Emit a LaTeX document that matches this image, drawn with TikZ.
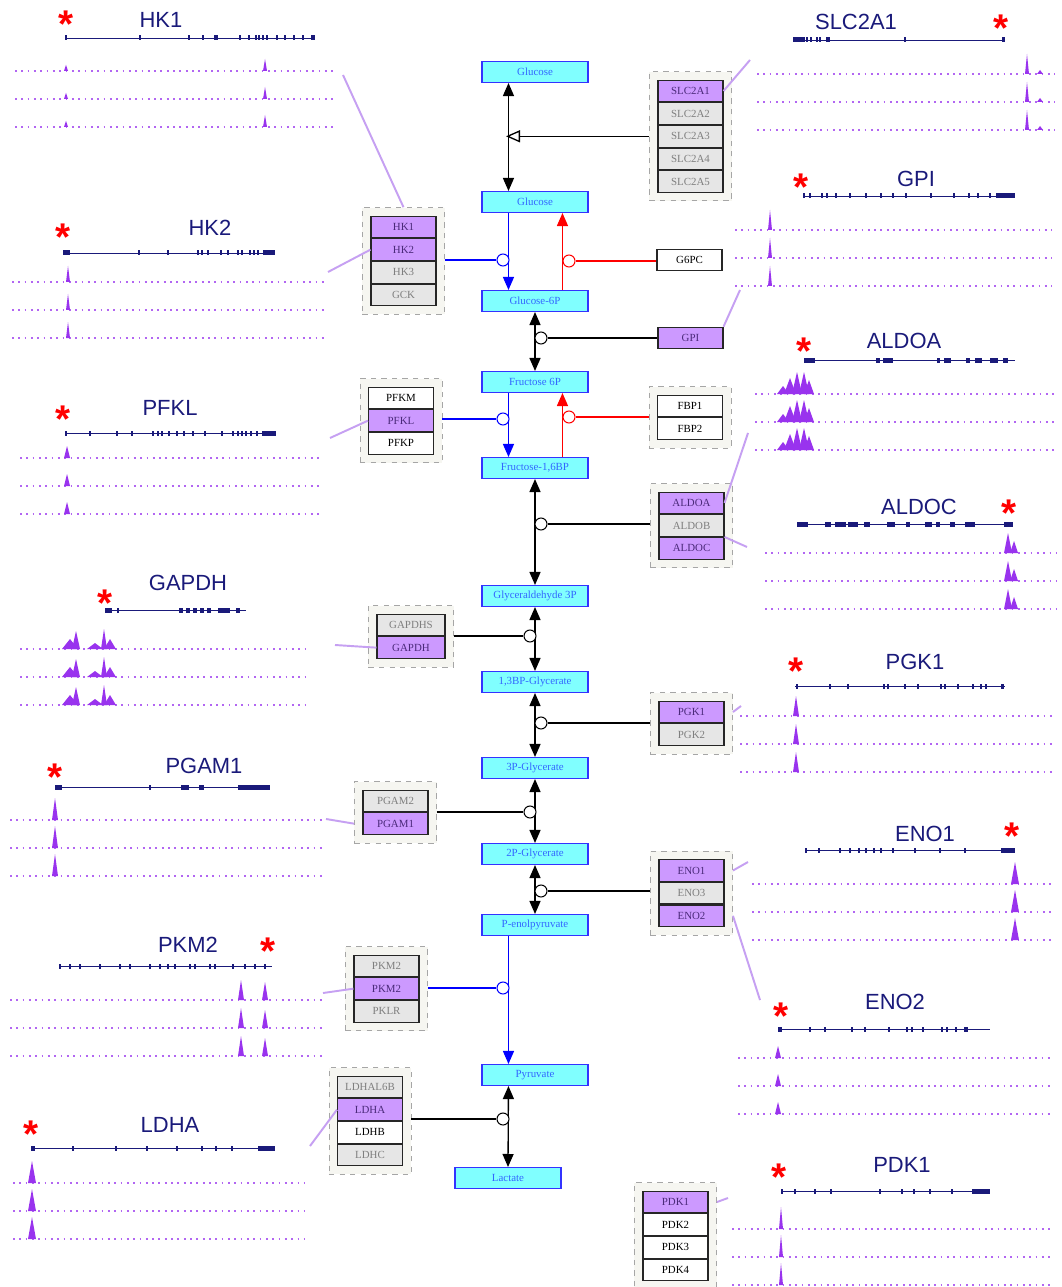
\documentclass[tikz,border=0pt]{standalone}
\usepackage{fontspec}
\setmainfont{Liberation Serif}
\newfontfamily\labelfont{Liberation Sans}
\usetikzlibrary{arrows.meta, positioning, fit, backgrounds}

\definecolor{metfill}{HTML}{80FFFF}
\definecolor{metdraw}{HTML}{3333FF}
\definecolor{mettext}{HTML}{3366FF}
\definecolor{enzp}{HTML}{CC99FF}
\definecolor{enzptext}{HTML}{4B2A7A}
\definecolor{enzg}{HTML}{E6E6E6}
\definecolor{enzgtext}{HTML}{7F7F7F}
\definecolor{grpfill}{HTML}{F6F6F1}
\definecolor{leader}{HTML}{C6A0F2}
\definecolor{trackc}{HTML}{9933EE}
\definecolor{genec}{HTML}{1A1A7A}

% three signal tracks under a gene
\newcommand{\tracks}[4]{%
  \foreach \r in {0,1,2}{%
    \draw[trk] (#1,#3+28*\r) -- (#2,#3+28*\r);
    \foreach \px/\ph/\pw in {#4}{%
      \fill[trackc] (\px-\pw,#3+28*\r) -- (\px,#3+28*\r-\ph) -- (\px+\pw,#3+28*\r) -- cycle;}
  }}
% gene model with exons
\newcommand{\genemodel}[4]{%
  \draw[genec, line width=0.4pt] (#1,#3) -- (#2,#3);
  \foreach \ex/\ew in {#4}{\fill[genec] (\ex-\ew/2,#3-2.5) rectangle (\ex+\ew/2,#3+2.5);}}

\begin{document}
\begin{tikzpicture}[x=0.02cm, y=-0.02cm,
        met/.style={rectangle, draw=metdraw, fill=metfill, line width=0.6pt, minimum width=2.12cm, minimum height=0.42cm, inner sep=0pt, font=\fontsize{6.2}{7}\selectfont, text=mettext},
        cell/.style={rectangle, draw=black!85, line width=0.6pt, minimum width=1.3cm, minimum height=0.432cm, inner sep=0pt, font=\fontsize{6.2}{7}\selectfont},
        cellp/.style={cell, fill=enzp, text=enzptext},
        cellg/.style={cell, fill=enzg, text=enzgtext},
        cellw/.style={cell, fill=white, text=black},
        grp/.style={rectangle, draw=gray!70, dashed, fill=grpfill, inner sep=0.16cm, line width=0.5pt},
        hub/.style={circle, draw, fill=white, minimum size=0.24cm, inner sep=0pt, line width=0.6pt},
        dbl/.style={{Triangle[length=0.26cm,width=0.22cm]}-{Triangle[length=0.26cm,width=0.22cm]}, line width=0.75pt},
        fwd/.style={-{Triangle[length=0.26cm,width=0.22cm]}, line width=0.75pt},
        link/.style={line width=0.6pt},
        lead/.style={leader, line width=1.1pt},
        genelbl/.style={font=\labelfont\fontsize{12.5}{13}\selectfont, text=genec, inner sep=0pt},
        sig/.style={font=\labelfont\bfseries\fontsize{22}{22}\selectfont, text=red, inner sep=0pt, anchor=north},
        trk/.style={trackc!75, line width=0.6pt, dash pattern=on 1pt off 2.6pt}
    ]
        \begin{scope}[on background layer]
            \fill[white] (0,0) rectangle (1061,1287);
        \end{scope}
        \useasboundingbox (0,0) rectangle (1061,1287);

        % Metabolites
        \node[met] (glc_out) at (535,72) {Glucose};
        \node[met] (glc_in) at (535,202) {Glucose};
        \node[met] (g6p) at (535,301) {Glucose-6P};
        \node[met] (f6p) at (535,382) {Fructose 6P};
        \node[met] (f16bp) at (535,468) {Fructose-1,6BP};
        \node[met] (ga3p) at (535,596) {Glyceraldehyde 3P};
        \node[met] (bpg) at (535,682) {1,3BP-Glycerate};
        \node[met] (pg3) at (535,768) {3P-Glycerate};
        \node[met] (pg2) at (535,854) {2P-Glycerate};
        \node[met] (pep) at (535,925) {P-enolpyruvate};
        \node[met] (pyr) at (535,1075) {Pyruvate};
        \node[met] (lac) at (508,1178) {Lactate};

        % Pathway arrows
        \draw[dbl] ([xshift=0.54cm]glc_out.south west) -- ([xshift=0.54cm]glc_in.north west);
        \draw[fwd, blue] ([xshift=0.54cm]glc_in.south west) -- ([xshift=0.54cm]g6p.north west);
        \draw[fwd, red] ([xshift=1.62cm]g6p.north west) -- ([xshift=1.62cm]glc_in.south west);
        \draw[dbl] (g6p.south) -- (f6p.north);
        \draw[fwd, blue] ([xshift=0.54cm]f6p.south west) -- ([xshift=0.54cm]f16bp.north west);
        \draw[fwd, red] ([xshift=1.62cm]f16bp.north west) -- ([xshift=1.62cm]f6p.south west);
        \draw[dbl] (f16bp.south) -- (ga3p.north);
        \draw[dbl] (ga3p.south) -- (bpg.north);
        \draw[dbl] (bpg.south) -- (pg3.north);
        \draw[dbl] (pg3.south) -- (pg2.north);
        \draw[dbl] (pg2.south) -- (pep.north);
        \draw[fwd, blue] ([xshift=0.54cm]pep.south west) -- ([xshift=0.54cm]pyr.north west);
        \draw[dbl] ([xshift=0.54cm]pyr.south west) -- (lac.north);

        % Enzyme groups
        \node[cellp] (slc1) at (690.5,91) {SLC2A1};
        \node[cellg, below=0pt of slc1] (slc2) {SLC2A2};
        \node[cellg, below=0pt of slc2] (slc3) {SLC2A3};
        \node[cellg, below=0pt of slc3] (slc4) {SLC2A4};
        \node[cellg, below=0pt of slc4] (slc5) {SLC2A5};

        \node[cellp] (hk1) at (403.5,227) {HK1};
        \node[cellp, below=0pt of hk1] (hk2) {HK2};
        \node[cellg, below=0pt of hk2] (hk3) {HK3};
        \node[cellg, below=0pt of hk3] (gck) {GCK};

        \node[cellw] (g6pc) at (689.5,260) {G6PC};
        \node[cellp] (gpi) at (690.5,338) {GPI};

        \node[cellw] (pfkm) at (401,398) {PFKM};
        \node[cellp, below=0pt of pfkm] (pfkl) {PFKL};
        \node[cellw, below=0pt of pfkl] (pfkp) {PFKP};

        \node[cellw] (fbp1) at (690,406) {FBP1};
        \node[cellw, below=0pt of fbp1] (fbp2) {FBP2};

        \node[cellp] (aldoa) at (691.5,503) {ALDOA};
        \node[cellg, below=0pt of aldoa] (aldob) {ALDOB};
        \node[cellp, below=0pt of aldob] (aldoc) {ALDOC};

        \node[cellg, minimum width=1.36cm] (gapdhs) at (411,625) {GAPDHS};
        \node[cellp, minimum width=1.36cm, below=0pt of gapdhs] (gapdh) {GAPDH};

        \node[cellp] (pgk1) at (691.5,712) {PGK1};
        \node[cellg, below=0pt of pgk1] (pgk2) {PGK2};

        \node[cellg] (pgam2) at (395.5,801) {PGAM2};
        \node[cellp, below=0pt of pgam2] (pgam1) {PGAM1};

        \node[cellp] (eno1) at (691.5,870.5) {ENO1};
        \node[cellg, below=0pt of eno1] (eno3) {ENO3};
        \node[cellp, below=0pt of eno3] (eno2) {ENO2};

        \node[cellg] (pkm2a) at (386.5,966) {PKM2};
        \node[cellp, below=0pt of pkm2a] (pkm2b) {PKM2};
        \node[cellg, below=0pt of pkm2b] (pklr) {PKLR};

        \node[cellg] (ldhal6b) at (370,1087) {LDHAL6B};
        \node[cellp, below=0pt of ldhal6b] (ldha) {LDHA};
        \node[cellw, below=0pt of ldha] (ldhb) {LDHB};
        \node[cellg, below=0pt of ldhb] (ldhc) {LDHC};

        \node[cellp] (pdk1) at (675.5,1202) {PDK1};
        \node[cellw, below=0pt of pdk1] (pdk2) {PDK2};
        \node[cellw, below=0pt of pdk2] (pdk3) {PDK3};
        \node[cellw, below=0pt of pdk3] (pdk4) {PDK4};

        \begin{scope}[on background layer]
            \node[grp, fit=(slc1)(slc5)] (slc_grp) {};
            \node[grp, fit=(hk1)(gck)] (hk_grp) {};
            \node[grp, fit=(pfkm)(pfkp)] (pfk_grp) {};
            \node[grp, fit=(fbp1)(fbp2)] (fbp_grp) {};
            \node[grp, fit=(aldoa)(aldoc)] (aldo_grp) {};
            \node[grp, fit=(gapdhs)(gapdh)] (gapdh_grp) {};
            \node[grp, fit=(pgk1)(pgk2)] (pgk_grp) {};
            \node[grp, fit=(pgam2)(pgam1)] (pgam_grp) {};
            \node[grp, fit=(eno1)(eno2)] (eno_grp) {};
            \node[grp, fit=(pkm2a)(pklr)] (pk_grp) {};
            \node[grp, fit=(ldhal6b)(ldhc)] (ldh_grp) {};
            \node[grp, fit=(pdk1)(pdk4)] (pdk_grp) {};
        \end{scope}

        % Enzyme links
        \coordinate (glc_mid) at (506,134);
        \draw[link, line width=0.75pt, -{Triangle[open, length=0.28cm, width=0.24cm]}] (slc_grp.west) -- (slc_grp.west -| glc_mid);

        \node[hub, draw=blue] (hub_hk) at (503,260) {};
        \node[hub, draw=red] (hub_g6pc) at (569,261) {};
        \node[hub] (hub_gpi) at (541,338) {};
        \node[hub, draw=blue] (hub_pfk) at (503,419) {};
        \node[hub, draw=red] (hub_fbp) at (569,417) {};
        \node[hub] (hub_aldo) at (541,524) {};
        \node[hub] (hub_gapdh) at (530,636) {};
        \node[hub] (hub_pgk) at (541,723) {};
        \node[hub] (hub_pgam) at (530,812) {};
        \node[hub] (hub_eno) at (541,891) {};
        \node[hub, draw=blue] (hub_pk) at (503,988) {};
        \node[hub] (hub_ldh) at (503,1119) {};

        \draw[link, blue] (hk_grp.east |- hub_hk) -- (hub_hk);
        \draw[link, red] (hub_g6pc) -- (g6pc.west |- hub_g6pc);
        \draw[link] (hub_gpi) -- (gpi.west |- hub_gpi);
        \draw[link, blue] (pfk_grp.east |- hub_pfk) -- (hub_pfk);
        \draw[link, red] (hub_fbp) -- (fbp_grp.west |- hub_fbp);
        \draw[link] (hub_aldo) -- (aldo_grp.west |- hub_aldo);
        \draw[link] (gapdh_grp.east |- hub_gapdh) -- (hub_gapdh);
        \draw[link] (hub_pgk) -- (pgk_grp.west |- hub_pgk);
        \draw[link] (pgam_grp.east |- hub_pgam) -- (hub_pgam);
        \draw[link] (hub_eno) -- (eno_grp.west |- hub_eno);
        \draw[link, blue] (pk_grp.east |- hub_pk) -- (hub_pk);
        \draw[link] (ldh_grp.east |- hub_ldh) -- (hub_ldh);

        % Gene tracks, left
        \node[genelbl] (lbl_hk1) at (161,20) {HK1};
        \node[sig] (sig_hk1) at (66,11) {*};
        \genemodel{66}{315}{38}{66/2, 140/1.5, 189/1.5, 203/1.5, 215/1.5, 217/1.5, 240/1.5, 249/1.5, 256/1.5, 259/1.5, 263/1.5, 267/1.5, 277/1.5, 285/1.5, 294/1.5, 303/1.5, 313/4}
        \tracks{15}{333}{71}{66/6/2, 265/12/2}

        \node[genelbl] (lbl_hk2) at (210,228) {HK2};
        \node[sig] (sig_hk2) at (63,224) {*};
        \genemodel{63}{275}{253}{66/7, 139/1.5, 168/1.5, 198/1.5, 202/1.5, 208/1.5, 221/1.5, 228/1.5, 238/1.5, 242/1.5, 250/1.5, 254/1.5, 258/1.5, 269/12}
        \tracks{12}{325}{282}{68/16/2}

        \node[genelbl] (lbl_pfkl) at (170,408) {PFKL};
        \node[sig] (sig_pfkl) at (63,406) {*};
        \genemodel{65}{276}{433}{66/2, 90/1.5, 117/1.5, 132/1.5, 153/1.5, 158/1.5, 162/1.5, 169/1.5, 177/1.5, 184/1.5, 193/1.5, 205/1.5, 222/1.5, 233/1.5, 238/1.5, 242/1.5, 246/1.5, 251/1.5, 257/1.5, 269/14}
        \tracks{20}{323}{458}{67/12/3}

        \node[genelbl] (lbl_gapdh) at (188,583) {GAPDH};
        \node[sig] (sig_gapdh) at (105,590) {*};
        \genemodel{105}{246}{610}{108/7, 118/1.5, 181/4, 188/4, 195/4, 202/4, 209/4, 224/12, 238/4}
        \tracks{20}{307}{649}{70/10/8, 76/18/4, 95/6/8, 104/20/3, 110/10/6}

        \node[genelbl] (lbl_pgam1) at (204,766) {PGAM1};
        \node[sig] (sig_pgam1) at (55,764) {*};
        \genemodel{55}{270}{787}{58/7, 150/1.5, 185/8, 201/5, 254/32}
        \tracks{10}{322}{820}{55/22/3}

        \node[genelbl] (lbl_pkm2) at (188,945) {PKM2};
        \node[sig] (sig_pkm2) at (268,938) {*};
        \genemodel{60}{272}{966}{60/2, 70/1.5, 80/1.5, 100/1.5, 120/1.5, 130/1.5, 150/1.5, 160/1.5, 168/1.5, 175/1.5, 190/1.5, 195/1.5, 210/1.5, 215/1.5, 233/1.5, 245/1.5, 255/1.5, 265/1.5}
        \tracks{10}{322}{1000}{241/20/3, 265/18/3}

        \node[genelbl] (lbl_ldha) at (170,1125) {LDHA};
        \node[sig] (sig_ldha) at (31,1121) {*};
        \genemodel{31}{275}{1148}{33/4, 73/1.5, 116/1.5, 147/1.5, 177/1.5, 202/1.5, 216/1.5, 232/1.5, 266/17}
        \tracks{13}{305}{1183}{32/22/4}

        % Gene tracks, right
        \node[genelbl] (lbl_slc2a1) at (856,22) {SLC2A1};
        \node[sig] (sig_slc2a1) at (1001,15) {*};
        \genemodel{793}{1005}{40}{799/12, 807/1.5, 811/1.5, 817/1.5, 820/1.5, 827/1.5, 829/1.5, 905/1.5, 1003/3}
        \tracks{757}{1055}{74}{1027/20/2, 1040/4/3}

        \node[genelbl] (lbl_gpi) at (916,179) {GPI};
        \node[sig] (sig_gpi) at (801,174) {*};
        \genemodel{803}{1015}{196}{804/2, 810/1.5, 822/1.5, 827/1.5, 836/1.5, 850/1.5, 866/1.5, 881/1.5, 893/1.5, 906/1.5, 931/1.5, 954/1.5, 969/1.5, 978/1.5, 990/1.5, 1005/19}
        \tracks{735}{1052}{230}{770/20/2}

        \node[genelbl] (lbl_aldoa) at (904,341) {ALDOA};
        \node[sig] (sig_aldoa) at (804,338) {*};
        \genemodel{804}{1015}{360}{809/11, 878/4, 888/10, 938/3, 947/7, 968/4, 978/7, 994/8, 1005/5}
        \tracks{755}{1055}{394}{783/8/6, 790/16/6, 797/22/5, 804/22/5, 809/14/5}

        \node[genelbl] (lbl_aldoc) at (919,507) {ALDOC};
        \node[sig] (sig_aldoc) at (1009,500) {*};
        \genemodel{797}{1012}{524}{802/11, 828/6, 840/11, 853/10, 867/6, 891/8, 908/4, 928/7, 938/4, 952/5, 970/10, 1008/9}
        \tracks{765}{1057}{553}{1008/20/4, 1014/12/4}

        \node[genelbl] (lbl_pgk1) at (915,662) {PGK1};
        \node[sig] (sig_pgk1) at (796,658) {*};
        \genemodel{795}{1005}{686}{797/2, 830/1.5, 848/1.5, 884/2, 888/2, 905/1.5, 918/1.5, 941/2, 945/2, 958/1.5, 973/1.5, 981/1.5, 986/1.5, 1002/3}
        \tracks{740}{1055}{716}{796/20/3}

        \node[genelbl] (lbl_eno1) at (925,834) {ENO1};
        \node[sig] (sig_eno1) at (1012,823) {*};
        \genemodel{805}{1015}{850}{806/2, 819/1.5, 840/2, 850/2, 859/2, 866/2, 874/1.5, 881/2, 893/1.5, 915/1.5, 940/1.5, 965/1.5, 1008/14}
        \tracks{752}{1055}{884}{1015/22/4}

        \node[genelbl] (lbl_eno2) at (895,1002) {ENO2};
        \node[sig] (sig_eno2) at (781,1003) {*};
        \genemodel{778}{990}{1029}{780/4, 810/1.5, 825/2, 852/2, 865/2, 889/2, 907/2, 912/2, 923/2, 942/2, 947/2, 956/2, 966/4}
        \tracks{738}{1050}{1058}{778/12/3}

        \node[genelbl] (lbl_pdk1) at (902,1165) {PDK1};
        \node[sig] (sig_pdk1) at (779,1164) {*};
        \genemodel{781}{990}{1191}{782/2, 795/1.5, 815/1.5, 831/1.5, 880/1.5, 902/1.5, 914/1.5, 930/1.5, 952/1.5, 981/18}
        \tracks{732}{1052}{1229}{781/22/2}

        % Leader lines
        \coordinate (hk1_end) at (343,75);
        \coordinate (hk2_end) at (328,272);
        \coordinate (pfkl_end) at (330,438);
        \coordinate (gapdh_end) at (335,645);
        \coordinate (pgam1_end) at (326,819);
        \coordinate (pkm2_end) at (323,993);
        \coordinate (ldha_end) at (310,1146);
        \coordinate (slc2a1_end) at (750,60);
        \coordinate (gpi_end) at (740,290);
        \coordinate (aldoa_end) at (748,433);
        \coordinate (aldoc_end) at (747,547);
        \coordinate (pgk1_end) at (741,706);
        \coordinate (eno1_end) at (748,862);
        \coordinate (eno2_end) at (760,1000);
        \coordinate (pdk1_end) at (728,1198);

        \draw[lead] (hk1_end) -- (hk_grp.north);
        \draw[lead] (hk2_end) -- (hk2.west);
        \draw[lead] (pfkl_end) -- (pfkl.west);
        \draw[lead] (gapdh_end) -- (gapdh.west);
        \draw[lead] (pgam1_end) -- (pgam_grp.west |- pgam1);
        \draw[lead] (pkm2_end) -- (pkm2b.west);
        \draw[lead] (ldha_end) -- (ldha.west);
        \draw[lead] (slc1.east) -- (slc2a1_end);
        \draw[lead] (gpi.north east) -- (gpi_end);
        \draw[lead] (aldoa.east) -- (aldoa_end);
        \draw[lead] (aldoc.north east) -- (aldoc_end);
        \draw[lead] (pgk_grp.east |- pgk1) -- (pgk1_end);
        \draw[lead] (eno_grp.east |- eno1) -- (eno1_end);
        \draw[lead] (eno_grp.east |- eno2) -- (eno2_end);
        \draw[lead] (pdk_grp.east |- pdk1) -- (pdk1_end);
    \end{tikzpicture}
\end{document}
